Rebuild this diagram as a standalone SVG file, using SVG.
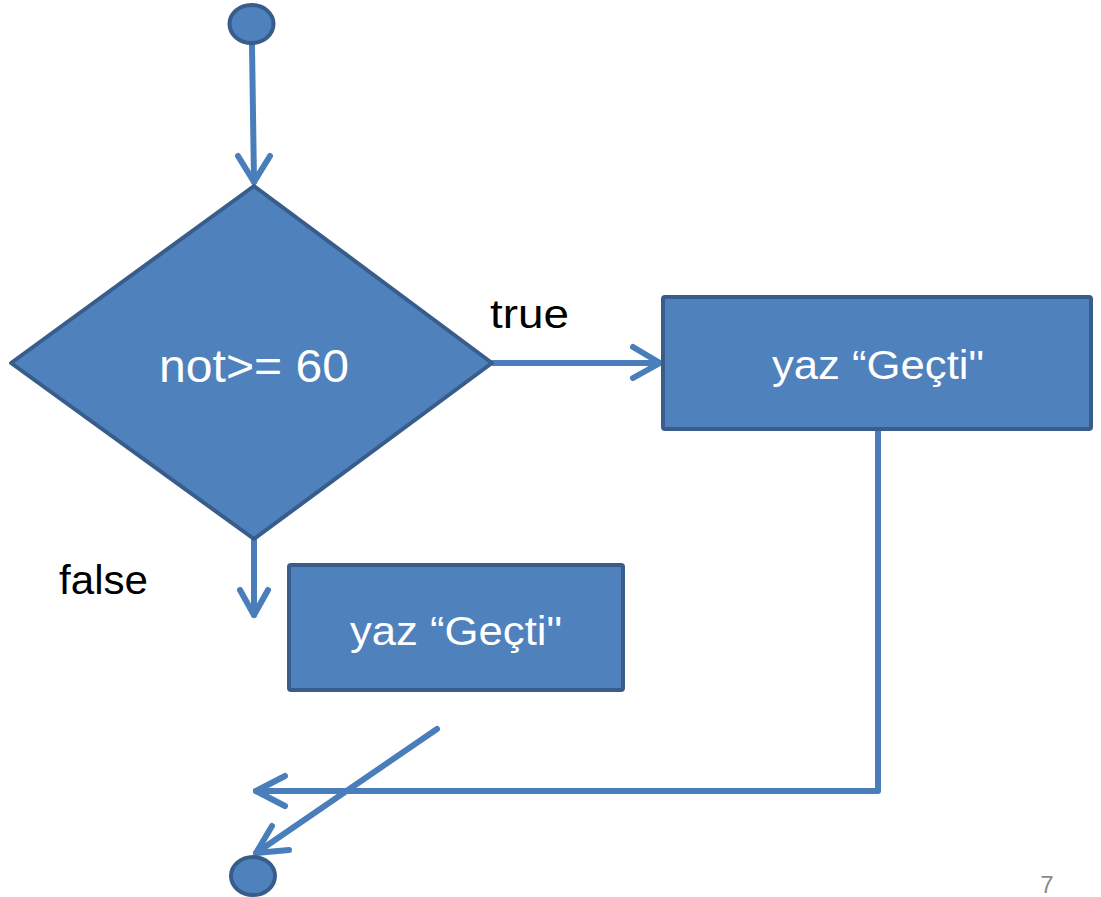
<svg xmlns="http://www.w3.org/2000/svg" width="1101" height="897" viewBox="0 0 1101 897">
<style>
.shape{fill:#4f81bd;stroke:#385d8a;stroke-width:4;stroke-linejoin:round}
.conn{fill:none;stroke:#4a7ebb;stroke-width:6;stroke-linecap:round;stroke-linejoin:round}
.wt{fill:#ffffff;font-family:"Liberation Sans",Arial,sans-serif;text-anchor:middle}
.bt{fill:#000000;font-family:"Liberation Sans",Arial,sans-serif}
</style>
<rect width="1101" height="897" fill="#ffffff"/>
<g id="connectors">
<path class="conn" d="M252,45 L254,182"/>
<path class="conn" d="M238,156 L254,182 L270,156"/>
<path class="conn" d="M493,363 L659,363"/>
<path class="conn" d="M633,347 L660,363 L633,378"/>
<path class="conn" d="M254,540 L254,615"/>
<path class="conn" d="M240,590 L254,615 L268,590"/>
<path class="conn" d="M878,430 L878,791 L256,791"/>
<path class="conn" d="M285,776 L256,791 L285,806"/>
<path class="conn" d="M437,729 L256,853"/>
<path class="conn" d="M272,826 L256,853 L289,850"/>
</g>
<g id="start">
<ellipse class="shape" cx="251.5" cy="24" rx="22" ry="19" stroke-width="5"/>
</g>
<g id="decision">
<polygon class="shape" points="254,186 11,363 254,539 492,363"/>
<text class="wt" x="254" y="382" font-size="46" textLength="190" lengthAdjust="spacingAndGlyphs">not&gt;= 60</text>
</g>
<g id="label-true">
<text class="bt" x="490" y="328" font-size="40" textLength="79" lengthAdjust="spacingAndGlyphs">true</text>
</g>
<g id="label-false">
<text class="bt" x="59" y="594" font-size="40" textLength="89" lengthAdjust="spacingAndGlyphs">false</text>
</g>
<g id="box-true">
<rect class="shape" x="663" y="297" width="428" height="132" rx="2"/>
<text class="wt" x="878" y="379" font-size="40" textLength="212" lengthAdjust="spacingAndGlyphs">yaz “Geçti"</text>
</g>
<g id="box-false">
<rect class="shape" x="289" y="565" width="334" height="125" rx="2"/>
<text class="wt" x="456" y="645" font-size="40" textLength="212" lengthAdjust="spacingAndGlyphs">yaz “Geçti"</text>
</g>
<g id="end">
<ellipse class="shape" cx="253" cy="876" rx="22" ry="19" stroke-width="5"/>
</g>
<g id="page-number">
<text x="1047" y="893" font-size="24" fill="#8b8b8b" font-family="Liberation Sans,Arial,sans-serif" text-anchor="middle">7</text>
</g>
</svg>
